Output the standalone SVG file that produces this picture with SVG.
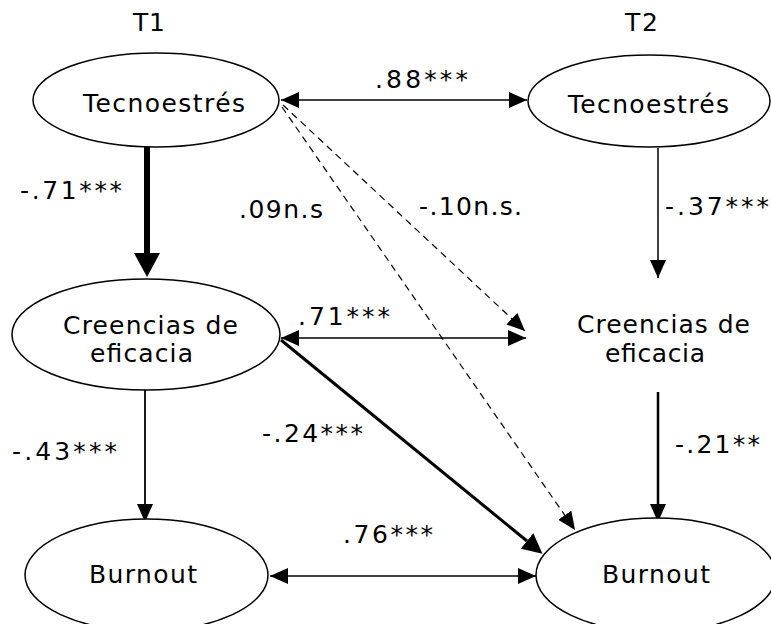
<svg xmlns="http://www.w3.org/2000/svg" width="771" height="624" viewBox="0 0 771 624">
<style>
.node{fill:#fff;stroke:#000;stroke-width:1.5}
.t{font-family:"DejaVu Sans",Verdana,sans-serif;font-size:25px;fill:#000}
.c{fill:none;stroke:#000}
.thin{stroke-width:1.5}
.dash{stroke-width:1.2;stroke-dasharray:7,5}
</style>
<defs>
<marker id="ah" markerUnits="userSpaceOnUse" viewBox="0 0 18 16" refX="18" refY="8" markerWidth="18" markerHeight="16" orient="auto-start-reverse">
<path d="M0,0 L18,8 L0,16 z" fill="#000"/>
</marker>
<marker id="ahb" markerUnits="userSpaceOnUse" viewBox="0 0 20 20" refX="0" refY="10" markerWidth="20" markerHeight="20" orient="auto">
<path d="M0,0 L20,10 L0,20 z" fill="#000"/>
</marker>
<marker id="ahk" markerUnits="userSpaceOnUse" viewBox="0 0 24 26" refX="0" refY="13" markerWidth="24" markerHeight="26" orient="auto">
<path d="M0,0 L24,13 L0,26 z" fill="#000"/>
</marker>
</defs>
<rect width="771" height="624" fill="#fff"/>
<text class="t" x="133" y="31" textLength="32">T1</text>
<text class="t" x="625" y="31" textLength="33">T2</text>
<g id="connectors">
<line class="c" x1="147" y1="147" x2="147" y2="253" stroke-width="6" marker-end="url(#ahk)"/>
<line class="c thin" x1="281" y1="100" x2="527" y2="100" marker-start="url(#ah)" marker-end="url(#ah)"/>
<line class="c thin" x1="658" y1="148" x2="658" y2="278" marker-end="url(#ah)"/>
<line class="c dash" x1="283" y1="105" x2="525" y2="331" marker-end="url(#ah)"/>
<line class="c dash" x1="282" y1="107" x2="575" y2="530" marker-end="url(#ah)"/>
<line class="c thin" x1="281" y1="338" x2="526" y2="338" marker-start="url(#ah)" marker-end="url(#ah)"/>
<line class="c" x1="281" y1="340" x2="527" y2="541" stroke-width="3" marker-end="url(#ahb)"/>
<line class="c" x1="145" y1="390" x2="145" y2="522" stroke-width="1.8" marker-end="url(#ah)"/>
<line class="c" x1="658" y1="392" x2="658" y2="522" stroke-width="2.5" marker-end="url(#ah)"/>
<line class="c thin" x1="270" y1="576" x2="536" y2="576" marker-start="url(#ah)" marker-end="url(#ah)"/>
</g>
<g id="n-tecno1">
<ellipse class="node" cx="156" cy="100" rx="123" ry="47"/>
<text class="t" x="83" y="112" textLength="162">Tecnoestrés</text>
</g>
<g id="n-tecno2">
<ellipse class="node" cx="649" cy="101" rx="121" ry="46"/>
<text class="t" x="568" y="113" textLength="161">Tecnoestrés</text>
</g>
<g id="n-cree1">
<ellipse class="node" cx="146" cy="334.5" rx="134" ry="55.5"/>
<text class="t" x="63" y="334" textLength="175">Creencias de</text>
<text class="t" x="90" y="362" textLength="103">eficacia</text>
</g>
<g id="n-cree2">
<text class="t" x="577" y="333" textLength="173">Creencias de</text>
<text class="t" x="605" y="362" textLength="100">eficacia</text>
</g>
<g id="n-burn1">
<ellipse class="node" cx="146.5" cy="575" rx="121.5" ry="56"/>
<text class="t" x="89" y="583" textLength="108">Burnout</text>
</g>
<g id="n-burn2">
<ellipse class="node" cx="656" cy="575" rx="120" ry="57"/>
<text class="t" x="602" y="583" textLength="108">Burnout</text>
</g>
<g id="labels">
<text class="t" x="375" y="88" textLength="93">.88***</text>
<text class="t" x="20" y="199" textLength="102">-.71***</text>
<text class="t" x="239" y="218" textLength="84">.09n.s</text>
<text class="t" x="419" y="215" textLength="103">-.10n.s.</text>
<text class="t" x="665" y="215" textLength="104">-.37***</text>
<text class="t" x="298" y="325" textLength="92">.71***</text>
<text class="t" x="262" y="442" textLength="101">-.24***</text>
<text class="t" x="12" y="460" textLength="105">-.43***</text>
<text class="t" x="343" y="543" textLength="90">.76***</text>
<text class="t" x="675" y="453" textLength="85">-.21**</text>
</g>
</svg>
